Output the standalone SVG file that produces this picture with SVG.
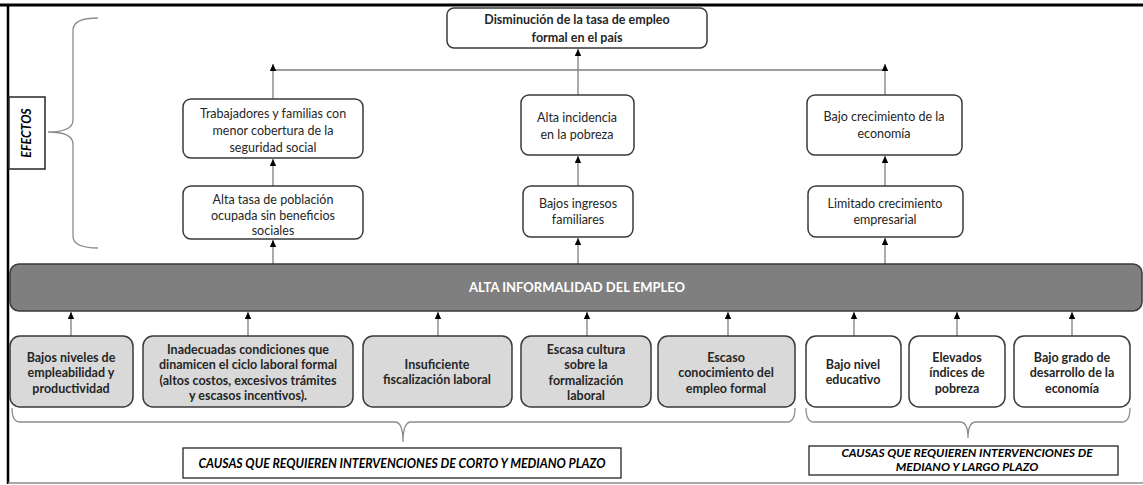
<svg xmlns="http://www.w3.org/2000/svg" width="1143" height="485" viewBox="0 0 1143 485">
<defs>
<marker id="ah" markerWidth="7" markerHeight="7" refX="7" refY="3.5" orient="auto" markerUnits="userSpaceOnUse" viewBox="0 0 7 7">
<path d="M0,0.3 L7,3.5 L0,6.7 Z" fill="#000"/>
</marker>
<style>
.eff{fill:#fff;stroke:#3a3a3a;stroke-width:1.5}
.cg{fill:#d9d9d9;stroke:#3a3a3a;stroke-width:1.5}
.cw{fill:#fff;stroke:#3a3a3a;stroke-width:1.5}
.t{font-family:Lato,"Open Sans","Liberation Sans",sans-serif;font-size:12.5px;fill:#262626;text-anchor:middle}
.tb{font-family:Lato,"Open Sans","Liberation Sans",sans-serif;font-size:12.5px;font-weight:bold;fill:#262626;text-anchor:middle}
.ti{font-family:Lato,"Open Sans","Liberation Sans",sans-serif;font-size:12.3px;font-weight:bold;font-style:italic;fill:#000;text-anchor:middle}
.ts{font-family:Lato,"Open Sans","Liberation Sans",sans-serif;font-size:12px;font-weight:bold;font-style:italic;fill:#000;text-anchor:middle}
.c{stroke:#7f7f7f;stroke-width:1.3;fill:none}
.br{stroke:#8c8c8c;stroke-width:1.3;fill:none}
</style>
</defs>
<rect width="1143" height="485" fill="#fff"/>
<g id="frame">
<line x1="0" y1="5" x2="1143" y2="5" stroke="#000" stroke-width="3"/>
<line x1="8" y1="4" x2="8" y2="484" stroke="#000" stroke-width="2.5"/>
<line x1="8" y1="483" x2="1143" y2="483" stroke="#8c8c8c" stroke-width="1.5"/>
</g>
<g id="braces">
<path class="br" d="M98,18 Q73,18 73,30 L73,120 Q73,132 48,132 Q73,132 73,144 L73,236 Q73,248 98,248"/>
<path class="br" d="M12,408 Q12,422 20,422 L395,422 Q403,422 403,442 Q403,422 411,422 L787,422 Q795,422 795,408"/>
<path class="br" d="M806,408 Q806,422 814,422 L960,422 Q968,422 968,438 Q968,422 976,422 L1122,422 Q1130,422 1130,408"/>
</g>
<g id="connectors">
<line class="c" x1="273" y1="70" x2="885" y2="70"/>
<line class="c" x1="578" y1="70" x2="578" y2="49" marker-end="url(#ah)"/>
<line class="c" x1="273" y1="99" x2="273" y2="64" marker-end="url(#ah)"/>
<line class="c" x1="578" y1="95" x2="578" y2="70"/>
<line class="c" x1="885" y1="95" x2="885" y2="64" marker-end="url(#ah)"/>
<line class="c" x1="273" y1="186" x2="273" y2="159" marker-end="url(#ah)"/>
<line class="c" x1="578" y1="186" x2="578" y2="156" marker-end="url(#ah)"/>
<line class="c" x1="885" y1="186" x2="885" y2="156" marker-end="url(#ah)"/>
<line class="c" x1="273" y1="264" x2="273" y2="240" marker-end="url(#ah)"/>
<line class="c" x1="578" y1="264" x2="578" y2="238" marker-end="url(#ah)"/>
<line class="c" x1="885" y1="264" x2="885" y2="238" marker-end="url(#ah)"/>
<line class="c" x1="71" y1="336" x2="71" y2="312" marker-end="url(#ah)"/>
<line class="c" x1="248" y1="336" x2="248" y2="312" marker-end="url(#ah)"/>
<line class="c" x1="438" y1="336" x2="438" y2="312" marker-end="url(#ah)"/>
<line class="c" x1="587" y1="336" x2="587" y2="312" marker-end="url(#ah)"/>
<line class="c" x1="728" y1="336" x2="728" y2="312" marker-end="url(#ah)"/>
<line class="c" x1="854" y1="336" x2="854" y2="312" marker-end="url(#ah)"/>
<line class="c" x1="957" y1="336" x2="957" y2="312" marker-end="url(#ah)"/>
<line class="c" x1="1072" y1="336" x2="1072" y2="312" marker-end="url(#ah)"/>
</g>
<g id="efectos">
<rect x="9" y="97" width="36" height="72" fill="#fff" stroke="#262626" stroke-width="1.5"/>
<text class="ti" transform="translate(31,133) rotate(-90)">EFECTOS</text>
</g>
<g id="top">
<rect class="eff" x="447" y="8" width="260" height="40" rx="7"/>
<text class="tb" x="577" y="23.5">Disminución de la tasa de empleo</text>
<text class="tb" x="577" y="42">formal en el país</text>
</g>
<g id="e1">
<rect class="eff" x="183" y="99" width="180" height="59" rx="8"/>
<text class="t" x="273" y="117.5">Trabajadores y familias con</text>
<text class="t" x="273" y="134.5">menor cobertura de la</text>
<text class="t" x="273" y="151.5">seguridad social</text>
</g>
<g id="e2">
<rect class="eff" x="521" y="95" width="113" height="60" rx="8"/>
<text class="t" x="577" y="122">Alta incidencia</text>
<text class="t" x="577" y="139">en la pobreza</text>
</g>
<g id="e3">
<rect class="eff" x="807" y="95" width="155" height="60" rx="8"/>
<text class="t" x="884" y="121">Bajo crecimiento de la</text>
<text class="t" x="884" y="138">economía</text>
</g>
<g id="d1">
<rect class="eff" x="183" y="186" width="180" height="53" rx="8"/>
<text class="t" x="273" y="203.5">Alta tasa de población</text>
<text class="t" x="273" y="219.5">ocupada sin beneficios</text>
<text class="t" x="273" y="235">sociales</text>
</g>
<g id="d2">
<rect class="eff" x="523" y="186" width="110" height="51" rx="8"/>
<text class="t" x="578" y="208">Bajos ingresos</text>
<text class="t" x="578" y="224">familiares</text>
</g>
<g id="d3">
<rect class="eff" x="808" y="186" width="155" height="51" rx="8"/>
<text class="t" x="885" y="207.5">Limitado crecimiento</text>
<text class="t" x="885" y="224">empresarial</text>
</g>
<g id="bar">
<rect x="10" y="264" width="1132" height="47" rx="9" fill="#7f7f7f" stroke="#3a3a3a" stroke-width="1.5"/>
<text x="577" y="292" font-family="Lato,'Open Sans','Liberation Sans',sans-serif" font-size="13px" font-weight="bold" fill="#fff" text-anchor="middle">ALTA INFORMALIDAD DEL EMPLEO</text>
</g>
<g id="c1">
<rect class="cg" x="10" y="336" width="123" height="71" rx="10"/>
<text class="tb" x="71" y="361.5">Bajos niveles de</text>
<text class="tb" x="71" y="377">empleabilidad y</text>
<text class="tb" x="71" y="392.5">productividad</text>
</g>
<g id="c2">
<rect class="cg" x="143" y="336" width="210" height="71" rx="10"/>
<text class="tb" x="248" y="353.5">Inadecuadas condiciones que</text>
<text class="tb" x="248" y="369">dinamicen el ciclo laboral formal</text>
<text class="tb" x="248" y="384.5">(altos costos, excesivos trámites</text>
<text class="tb" x="248" y="400">y escasos incentivos).</text>
</g>
<g id="c3">
<rect class="cg" x="363" y="336" width="149" height="71" rx="10"/>
<text class="tb" x="437" y="368.5">Insuficiente</text>
<text class="tb" x="437" y="384">fiscalización laboral</text>
</g>
<g id="c4">
<rect class="cg" x="521" y="336" width="130" height="71" rx="10"/>
<text class="tb" x="586" y="353.5">Escasa cultura</text>
<text class="tb" x="586" y="369">sobre la</text>
<text class="tb" x="586" y="384.5">formalización</text>
<text class="tb" x="586" y="400">laboral</text>
</g>
<g id="c5">
<rect class="cg" x="658" y="336" width="137" height="71" rx="10"/>
<text class="tb" x="726" y="361.5">Escaso</text>
<text class="tb" x="726" y="377">conocimiento del</text>
<text class="tb" x="726" y="392.5">empleo formal</text>
</g>
<g id="c6">
<rect class="cw" x="806" y="336" width="95" height="71" rx="10"/>
<text class="tb" x="853" y="368.5">Bajo nivel</text>
<text class="tb" x="853" y="384">educativo</text>
</g>
<g id="c7">
<rect class="cw" x="909" y="336" width="96" height="71" rx="10"/>
<text class="tb" x="957" y="361.5">Elevados</text>
<text class="tb" x="957" y="377">índices de</text>
<text class="tb" x="957" y="392.5">pobreza</text>
</g>
<g id="c8">
<rect class="cw" x="1014" y="336" width="116" height="71" rx="10"/>
<text class="tb" x="1072" y="361.5">Bajo grado de</text>
<text class="tb" x="1072" y="377">desarrollo de la</text>
<text class="tb" x="1072" y="392.5">economía</text>
</g>
<g id="l1">
<rect x="183" y="448" width="438" height="30" fill="#fff" stroke="#262626" stroke-width="1.3"/>
<text class="ti" x="402" y="467.5">CAUSAS QUE REQUIEREN INTERVENCIONES DE CORTO Y MEDIANO PLAZO</text>
</g>
<g id="l2">
<rect x="809" y="446" width="309" height="29" fill="#fff" stroke="#262626" stroke-width="1.3"/>
<text class="ts" x="967" y="456.5">CAUSAS QUE REQUIEREN INTERVENCIONES DE</text>
<text class="ts" x="967" y="471">MEDIANO Y LARGO PLAZO</text>
</g>
</svg>
